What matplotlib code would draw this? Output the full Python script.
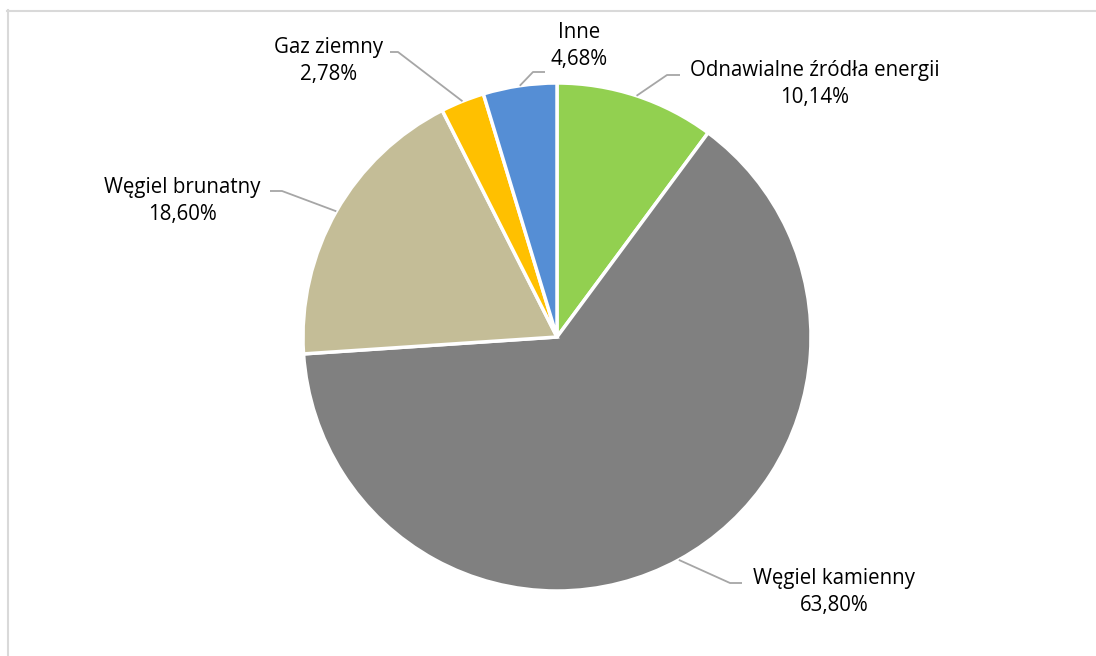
import matplotlib.pyplot as plt
import numpy as np

labels = ['Odnawialne źródła energii', 'Węgiel kamienny', 'Węgiel brunatny', 'Gaz ziemny', 'Inne']
values = [10.14, 63.80, 18.60, 2.78, 4.68]
colors = ['#92D050', '#808080', '#C4BD97', '#FFC000', '#558ED5']

W, H = 1096, 656
# layout in pixel coords (y from top)
center_px = (557, 337)
radius = 254
text_pos = [(815, 84), (834, 592), (182, 201), (329, 61), (579, 46)]
elbows = [[(667, 75), (680, 75)],
          [(730, 583), (742, 583)],
          [(282, 191), (270, 191)],
          [(398, 52), (390, 52)],
          [(533, 72), (545, 72)]]


def up(p):
    return (p[0], H - p[1])


plt.rcParams['font.family'] = ['Open Sans', 'DejaVu Sans']
fig = plt.figure(figsize=(W / 100, H / 100), dpi=100)
ax = fig.add_axes([0, 0, 1, 1])
ax.set_xlim(0, W)
ax.set_ylim(0, H)
ax.axis('off')

wedges, _ = ax.pie(values, colors=colors, startangle=90, counterclock=False,
                   center=up(center_px), radius=radius,
                   wedgeprops=dict(edgecolor='white', linewidth=2.5))
ax.set_xlim(0, W)
ax.set_ylim(0, H)
ax.set_aspect('equal')

for w, lab, val, tp, el in zip(wedges, labels, values, text_pos, elbows):
    mid = np.deg2rad((w.theta1 + w.theta2) / 2)
    cx, cy = w.center
    ax_pt = (cx + w.r * np.cos(mid), cy + w.r * np.sin(mid))
    pts = [ax_pt] + [up(p) for p in el]
    xs, ys = zip(*pts)
    ax.plot(xs, ys, color='#A6A6A6', lw=1.3, solid_capstyle='butt')
    txt = f"{lab}\n{val:.2f}%".replace('.', ',')
    ax.text(*up(tp), txt, ha='center', va='center', fontsize=14.8,
            color='#000000', linespacing=1.38)

# chart frame (only top and left edges visible)
fig.add_artist(plt.Line2D([7 / W, 1], [1 - 10.5 / H, 1 - 10.5 / H], color='#D9D9D9', lw=1.5))
fig.add_artist(plt.Line2D([7.5 / W, 7.5 / W], [0, 1 - 10 / H], color='#D9D9D9', lw=1.5))

fig.savefig('out.png', dpi=100)
